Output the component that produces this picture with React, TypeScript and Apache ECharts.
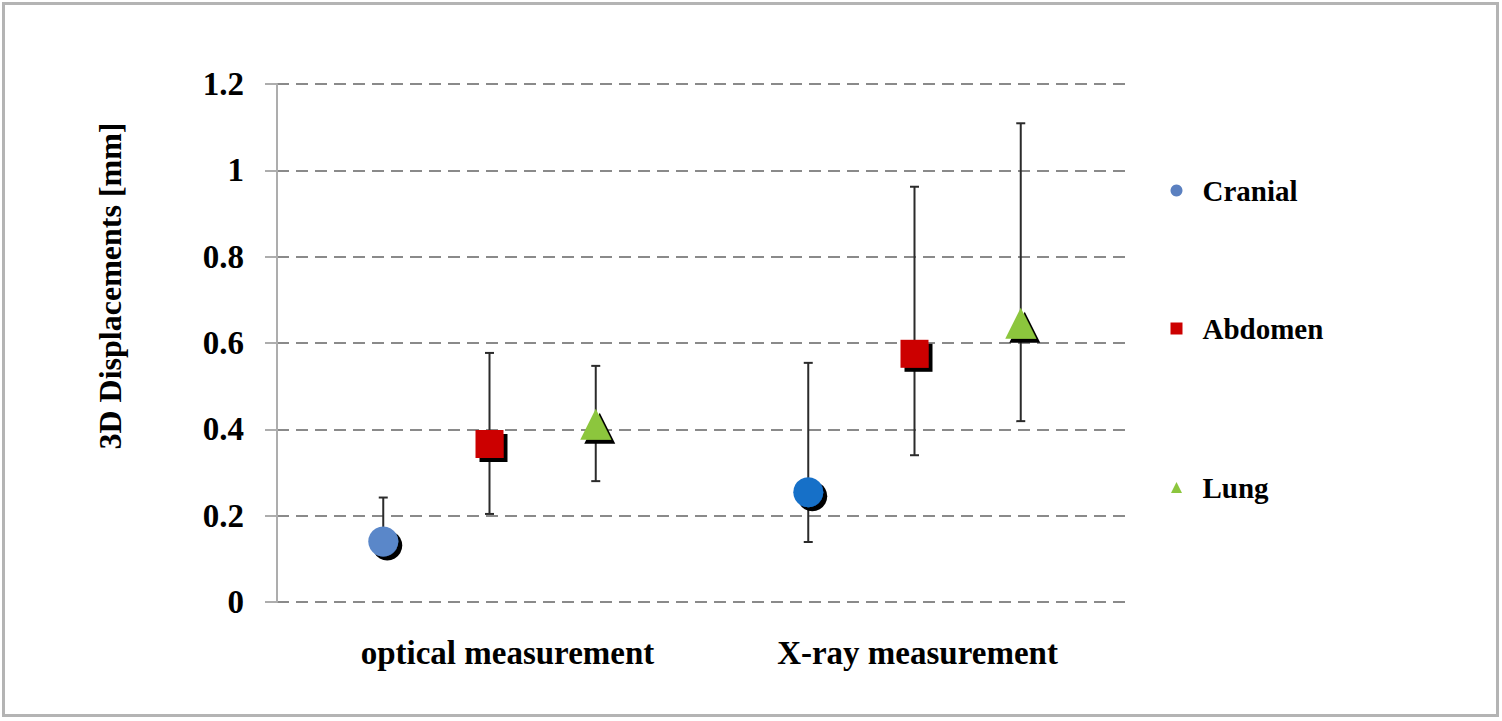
import React, { useEffect, useRef } from "react";
import * as echarts from "echarts";

const categories = ["optical measurement", "X-ray measurement"];
const seriesNames = ["Cranial", "Abdomen", "Lung"];

const cranialMean = [0.14, 0.254];
const cranialLow = [0.12, 0.139];
const cranialHigh = [0.242, 0.554];

const abdomenMean = [0.366, 0.575];
const abdomenLow = [0.204, 0.34];
const abdomenHigh = [0.577, 0.962];

const lungMean = [0.412, 0.646];
const lungLow = [0.28, 0.419];
const lungHigh = [0.547, 1.109];

const yTicks = [0, 0.2, 0.4, 0.6, 0.8, 1, 1.2];

const means = [cranialMean, abdomenMean, lungMean];
const lows = [cranialLow, abdomenLow, lungLow];
const highs = [cranialHigh, abdomenHigh, lungHigh];

const symbols = ["circle", "rect", "triangle"];
const symbolSizes = [30, 28, 31];
const legendSizes = [12, 12, 11];
const legendColors = ["#5b80c0", "#cc0000", "#8cc63e"];
const pointColors = [
  ["#5a87c9", "#1870c8"],
  ["#cc0000", "#cc0000"],
  ["#8cc63e", "#8cc63e"],
];

const FONT = '"Liberation Serif", "Times New Roman", serif';

// slot position on the x value axis: group centre plus dodge offset
const slot = (g: number, s: number) => 2 + 4 * g + (s - 1);

export default function App() {
  const ref = useRef<HTMLDivElement>(null);

  useEffect(() => {
    if (!ref.current) return;
    const chart = echarts.init(ref.current, undefined, { renderer: "svg" });

    const errData: number[][] = [];
    seriesNames.forEach((_, s) => {
      categories.forEach((_, g) => {
        errData.push([slot(g, s), lows[s][g], highs[s][g]]);
      });
    });

    const scatterSeries = seriesNames.map((name, s) => ({
      name,
      type: "scatter",
      symbol: symbols[s],
      symbolSize: symbolSizes[s],
      z: 5,
      itemStyle: {
        color: legendColors[s],
        shadowColor: "#000",
        shadowBlur: 0,
        shadowOffsetX: 4,
        shadowOffsetY: 4,
        opacity: 1,
      },
      data: categories.map((_, g) => ({
        value: [slot(g, s), means[s][g]],
        itemStyle: { color: pointColors[s][g] },
      })),
    }));

    const legendTops = [171, 309, 468];
    const legends = seriesNames.map((name, s) => ({
      orient: "vertical",
      left: 1172 - legendSizes[s] / 2 - 0.5,
      top: legendTops[s],
      data: [{ name, icon: symbols[s] }],
      itemWidth: legendSizes[s],
      itemHeight: legendSizes[s],
      itemGap: 0,
      selectedMode: false,
      itemStyle: {
        color: legendColors[s],
        shadowColor: "transparent",
        shadowBlur: 0,
        shadowOffsetX: 0,
        shadowOffsetY: 0,
      },
      textStyle: {
        fontFamily: FONT,
        fontWeight: "bold",
        fontSize: 29,
        color: "#000",
        padding: [0, 0, 0, 15 + (12 - legendSizes[s]) / 2],
      },
    }));

    chart.setOption({
      animation: false,
      backgroundColor: "#fff",
      grid: { left: 277, right: 375, top: 84, bottom: 119, containLabel: false },
      legend: legends,
      graphic: [
        {
          type: "rect",
          shape: { x: 3.5, y: 3.5, width: 1494, height: 712 },
          style: { fill: "none", stroke: "#b4b4b4", lineWidth: 3 },
          silent: true,
        },
        {
          type: "text",
          x: 110,
          y: 286,
          rotation: Math.PI / 2,
          style: {
            text: "3D Displacements [mm]",
            font: `bold 32px ${FONT}`,
            fill: "#000",
            align: "center",
            verticalAlign: "middle",
          },
        },
      ],
      xAxis: {
        type: "value",
        min: 0,
        max: 8,
        axisLine: { show: false },
        axisTick: { show: false },
        splitLine: { show: false },
        axisLabel: {
          customValues: [2, 6],
          margin: 34,
          formatter: (v: number) => {
            const g = Math.round((v - 2) / 4);
            return g === 0 ? `{a|${categories[g]}}` : `{b|${categories[g]}}`;
          },
          rich: {
            a: {
              fontFamily: FONT,
              fontWeight: "bold",
              fontSize: 33,
              color: "#000",
              padding: [0, 0, 0, 36],
            },
            b: {
              fontFamily: FONT,
              fontWeight: "bold",
              fontSize: 33,
              color: "#000",
              padding: [0, 0, 0, 6],
            },
          },
        },
      },
      yAxis: {
        type: "value",
        min: yTicks[0],
        max: yTicks[yTicks.length - 1],
        interval: 0.2,
        axisLine: { show: true, lineStyle: { color: "#adadad", width: 2 } },
        axisTick: { show: true, length: 12, lineStyle: { color: "#adadad", width: 2 } },
        splitLine: {
          show: true,
          lineStyle: { color: "#8a8a8a", width: 2, type: [12, 7] },
        },
        axisLabel: {
          margin: 33,
          fontFamily: FONT,
          fontWeight: "bold",
          fontSize: 33,
          color: "#000",
          padding: [10, 0, 0, 0],
          formatter: (v: number) => String(Math.round(v * 10) / 10),
        },
      },
      series: [
        {
          type: "custom",
          name: "errors",
          z: 3,
          silent: true,
          data: errData,
          renderItem: (params: any, api: any) => {
            const x = api.value(0);
            const top = api.coord([x, api.value(2)]);
            const bot = api.coord([x, api.value(1)]);
            const cap = 4.5;
            const style = { stroke: "#2b2b2b", lineWidth: 2 };
            return {
              type: "group",
              children: [
                { type: "line", shape: { x1: top[0], y1: top[1], x2: bot[0], y2: bot[1] }, style },
                { type: "line", shape: { x1: top[0] - cap, y1: top[1], x2: top[0] + cap, y2: top[1] }, style },
                { type: "line", shape: { x1: bot[0] - cap, y1: bot[1], x2: bot[0] + cap, y2: bot[1] }, style },
              ],
            };
          },
        },
        ...scatterSeries,
      ],
    });

    return () => chart.dispose();
  }, []);

  return (
    <div
      ref={ref}
      style={{ position: "fixed", left: 0, top: 0, width: 1502, height: 721, background: "#fff" }}
    />
  );
}
